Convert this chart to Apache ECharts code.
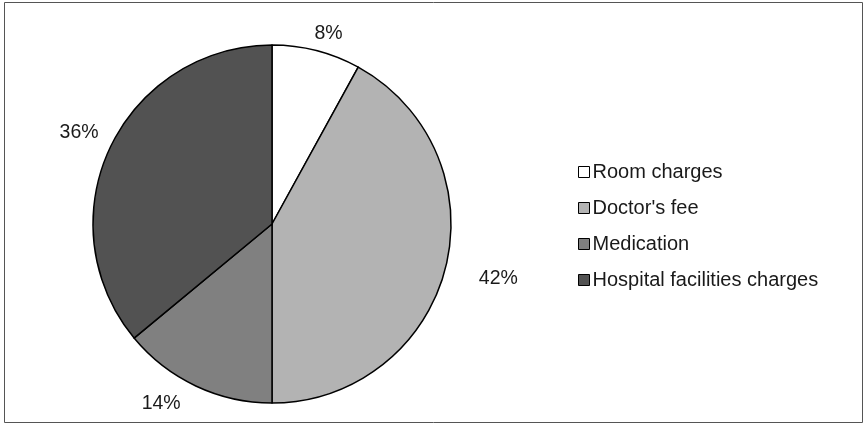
<!DOCTYPE html>
<html>
<head>
<meta charset="utf-8">
<script src="https://cdn.jsdelivr.net/npm/echarts@6/dist/echarts.min.js"></script>
<style>
html,body{margin:0;padding:0;background:#fff;}
#chart{width:865px;height:425px;}
</style>
</head>
<body>
<div id="chart"></div>
<script>
const categories = ["Room charges", "Doctor's fee", "Medication", "Hospital facilities charges"];
const shares = [8, 42, 14, 36];
const sliceColors = ["#ffffff", "#b3b3b3", "#808080", "#525252"];

const chart = echarts.init(document.getElementById('chart'), null, {renderer: 'canvas'});
const FONT = '"Liberation Sans", Arial, sans-serif';

const pieData = categories.map((n, i) => ({name: n, value: shares[i], itemStyle: {color: sliceColors[i]}}));
// label nudges (Excel "best fit" placement)
const nudge = [[4, 14], [22, 2], [-21, -11], [-2, -2]];
const labelData = categories.map((n, i) => ({name: n, value: shares[i], label: {offset: nudge[i]}}));

chart.setOption({
  animation: false,
  backgroundColor: '#ffffff',
  graphic: [{
    type: 'rect',
    shape: {x: 4.5, y: 2.5, width: 858, height: 420},
    style: {fill: 'none', stroke: '#555555', lineWidth: 1},
    silent: true
  }],
  legend: {
    orient: 'vertical',
    left: 578,
    top: 162,
    padding: 0,
    itemWidth: 11,
    itemHeight: 11,
    itemGap: 16,
    selectedMode: false,
    icon: 'rect',
    data: categories,
    itemStyle: {borderColor: '#000', borderWidth: 1},
    textStyle: {fontFamily: FONT, fontSize: 20, color: '#1a1a1a', padding: [0, 0, 0, -2]}
  },
  series: [{
    type: 'pie',
    center: [272, 224],
    radius: [0, 179],
    startAngle: 90,
    clockwise: true,
    silent: true,
    label: {show: false},
    labelLine: {show: false},
    itemStyle: {borderColor: '#000', borderWidth: 1.5},
    data: pieData
  }, {
    type: 'pie',
    center: [272, 224],
    radius: [196, 220],
    startAngle: 90,
    clockwise: true,
    silent: true,
    itemStyle: {color: 'rgba(0,0,0,0)', borderWidth: 0},
    label: {show: true, position: 'inside', formatter: '{c}%', fontFamily: FONT, fontSize: 19.5, color: '#1a1a1a'},
    labelLine: {show: false},
    data: labelData
  }]
});
</script>
</body>
</html>
